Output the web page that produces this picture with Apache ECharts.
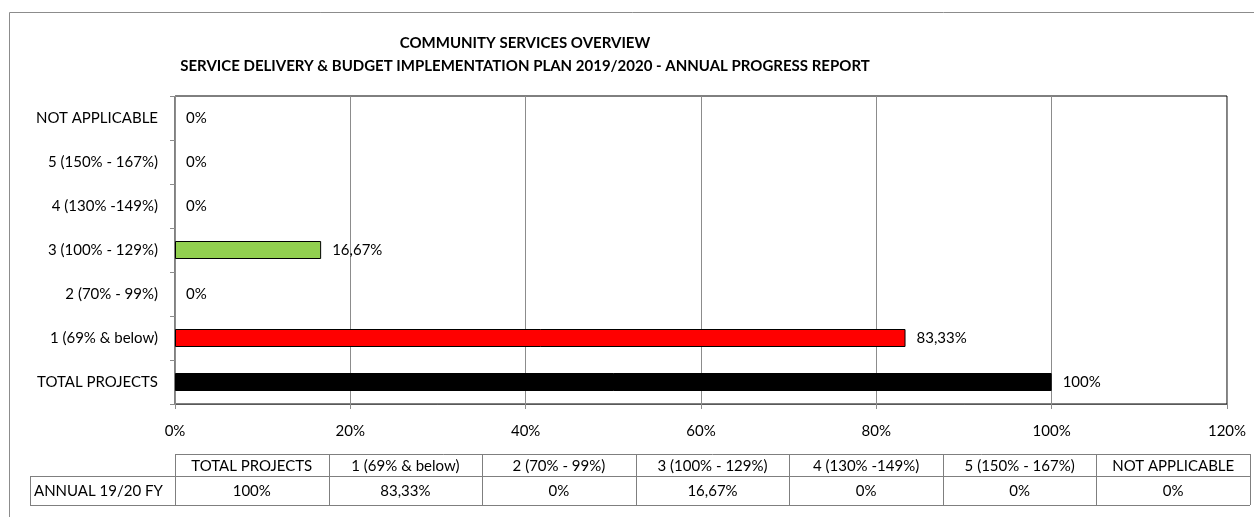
<!DOCTYPE html>
<html>
<head>
<meta charset="utf-8">
<script src="https://cdn.jsdelivr.net/npm/echarts@6.0.0/dist/echarts.min.js"></script>
<style>
  html, body { margin: 0; padding: 0; background: #fff; }
  #chart { width: 1254px; height: 517px; }
</style>
</head>
<body>
<div id="chart"></div>
<script>
// categories from bottom to top, as in the chart
const categories = ['TOTAL PROJECTS', '1 (69% & below)', '2 (70% - 99%)', '3 (100% - 129%)', '4 (130% -149%)', '5 (150% - 167%)', 'NOT APPLICABLE']
const values = [100, 83.33, 0, 16.67, 0, 0, 0]
const barColors = ['#000000', '#FF0000', '#FFFFFF', '#92D050', '#FFFFFF', '#FFFFFF', '#FFFFFF']
const rowLabel = 'ANNUAL 19/20 FY'
const xTicks = [0, 20, 40, 60, 80, 100, 120]

const font = 'Lato, "Open Sans", sans-serif'
const fs = 15

// 83.33 -> "83,33%"
function pct(v) {
  return String(v).replace('.', ',') + '%'
}

const myChart = echarts.init(document.getElementById('chart'))

// data table under the chart
function tableGraphic() {
  const left = 175, right = 1250, labelLeft = 30
  const top = 454, mid = 476, bottom = 505
  const colW = (right - left) / categories.length
  const line = { stroke: '#7f7f7f', lineWidth: 1 }
  const els = []
  // horizontal lines
  els.push({ type: 'line', shape: { x1: left, y1: top + 0.5, x2: right, y2: top + 0.5 }, style: line })
  els.push({ type: 'line', shape: { x1: labelLeft, y1: mid + 0.5, x2: right, y2: mid + 0.5 }, style: line })
  els.push({ type: 'line', shape: { x1: labelLeft, y1: bottom + 0.5, x2: right, y2: bottom + 0.5 }, style: line })
  els.push({ type: 'line', shape: { x1: labelLeft + 0.5, y1: mid, x2: labelLeft + 0.5, y2: bottom }, style: line })
  for (let i = 0; i <= categories.length; i++) {
    const x = Math.round(left + i * colW) + 0.5
    els.push({ type: 'line', shape: { x1: x, y1: top, x2: x, y2: bottom }, style: line })
  }
  categories.forEach(function (c, i) {
    const cx = left + (i + 0.5) * colW
    els.push({ type: 'text', x: cx, y: (top + mid) / 2 + 1, style: { text: c, font: fs + 'px ' + font, fill: '#000', align: 'center', verticalAlign: 'middle' } })
    els.push({ type: 'text', x: cx, y: (mid + bottom) / 2 + 1, style: { text: pct(values[i]), font: fs + 'px ' + font, fill: '#000', align: 'center', verticalAlign: 'middle' } })
  })
  els.push({ type: 'text', x: labelLeft + 4, y: (mid + bottom) / 2 + 1, style: { text: rowLabel, font: fs + 'px ' + font, fill: '#000', align: 'left', verticalAlign: 'middle' } })
  // outer chart border
  els.push({ type: 'rect', shape: { x: 9.5, y: 12.5, width: 1400, height: 700 }, style: { fill: null, stroke: '#8c8c8c', lineWidth: 1 }, z: -1 })
  return els
}

const option = {
  animation: false,
  backgroundColor: '#fff',
  textStyle: { fontFamily: font },
  title: {
    text: 'COMMUNITY SERVICES OVERVIEW\nSERVICE DELIVERY & BUDGET IMPLEMENTATION PLAN 2019/2020 - ANNUAL PROGRESS REPORT',
    left: 525,
    top: 32,
    padding: 0,
    textAlign: 'center',
    textStyle: { fontSize: 15, fontWeight: 'bold', color: '#000', lineHeight: 23, fontFamily: font }
  },
  grid: {
    left: 175,
    right: 27,
    top: 96,
    bottom: 113,
    show: true,
    borderColor: '#000',
    borderWidth: 1,
    containLabel: false
  },
  xAxis: {
    type: 'value',
    min: xTicks[0],
    max: xTicks[xTicks.length - 1],
    interval: 20,
    axisLine: { show: true, lineStyle: { color: '#595959' } },
    axisTick: { show: true, length: 5, lineStyle: { color: '#8c8c8c' } },
    splitLine: { show: true, lineStyle: { color: '#8c8c8c', width: 1 } },
    axisLabel: { formatter: '{value}%', color: '#000', fontSize: fs, margin: 20, fontFamily: font }
  },
  yAxis: {
    type: 'category',
    data: categories,
    axisLine: { show: true, lineStyle: { color: '#8c8c8c' } },
    axisTick: { show: true, length: 5, alignWithLabel: false, lineStyle: { color: '#8c8c8c' } },
    axisLabel: { color: '#000', fontSize: fs, margin: 17, fontFamily: font }
  },
  series: [
    {
      type: 'bar',
      barWidth: 18,
      data: values.map(function (v, i) {
        return {
          value: v,
          itemStyle: { color: barColors[i], borderColor: v > 0 ? '#000' : 'transparent', borderWidth: v > 0 ? 1 : 0 }
        }
      }),
      label: {
        show: true,
        position: 'right',
        distance: 11,
        color: '#000',
        fontSize: fs,
        fontFamily: font,
        formatter: function (p) { return pct(p.value) }
      }
    }
  ],
  graphic: tableGraphic()
}

myChart.setOption(option)
</script>
</body>
</html>
